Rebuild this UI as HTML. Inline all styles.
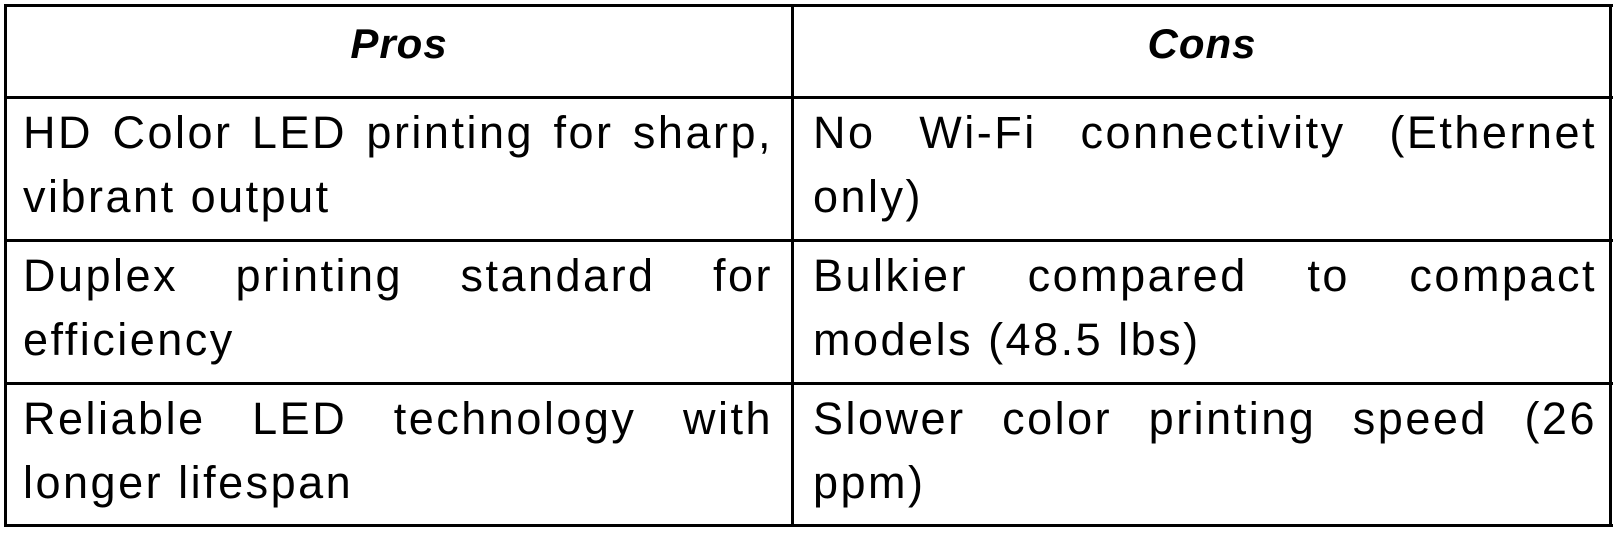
<!DOCTYPE html>
<html><head><meta charset="utf-8"><style>
html,body{margin:0;padding:0;background:#fff;}
body{width:1616px;height:534px;position:relative;overflow:hidden;font-family:"Liberation Sans",sans-serif;color:#000;}
.h{position:absolute;background:#000;height:3px;}
.v{position:absolute;background:#000;width:3px;}
.cell{position:absolute;font-size:45px;letter-spacing:2.5px;line-height:64px;}
.cell div{white-space:nowrap;}
.j{text-align:justify;text-align-last:justify;}
.hd{position:absolute;font-size:42px;letter-spacing:1px;font-weight:bold;font-style:italic;text-align:center;top:20px;line-height:48px;}
</style></head><body>
<div class="h" style="left:4px;top:4px;width:1609px"></div>
<div class="h" style="left:4px;top:96px;width:1609px"></div>
<div class="h" style="left:4px;top:239px;width:1609px"></div>
<div class="h" style="left:4px;top:382px;width:1609px"></div>
<div class="h" style="left:4px;top:524px;width:1609px"></div>
<div class="v" style="left:4px;top:4px;height:523px"></div>
<div class="v" style="left:791px;top:4px;height:523px"></div>
<div class="v" style="left:1609px;top:4px;height:523px"></div>

<div class="hd" style="left:6px;width:786px">Pros</div>
<div class="hd" style="left:794px;width:816px">Cons</div>

<div class="cell" style="left:23px;width:750px;top:101px"><div class="j">HD Color LED printing for sharp,</div><div>vibrant output</div></div>
<div class="cell" style="left:813px;width:784px;top:101px"><div class="j">No Wi-Fi connectivity (Ethernet</div><div>only)</div></div>

<div class="cell" style="left:23px;width:750px;top:244px"><div class="j">Duplex printing standard for</div><div>efficiency</div></div>
<div class="cell" style="left:813px;width:784px;top:244px"><div class="j">Bulkier compared to compact</div><div>models (48.5 lbs)</div></div>

<div class="cell" style="left:23px;width:750px;top:387px"><div class="j">Reliable LED technology with</div><div>longer lifespan</div></div>
<div class="cell" style="left:813px;width:784px;top:387px"><div class="j">Slower color printing speed (26</div><div>ppm)</div></div>
</body></html>
